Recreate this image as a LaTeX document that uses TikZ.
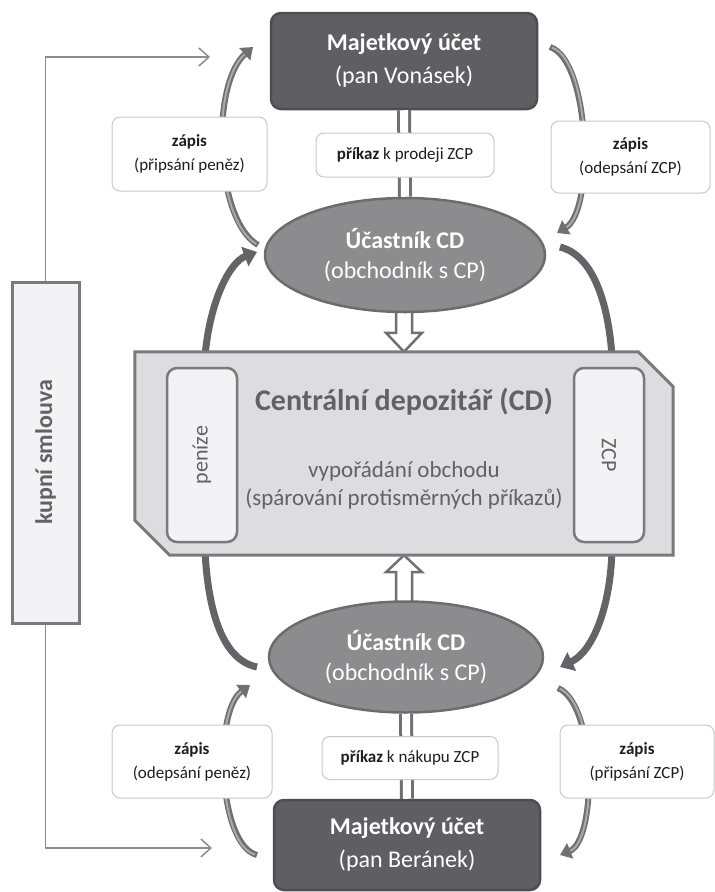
\documentclass[tikz,border=0pt]{standalone}
\usepackage{fontspec}
\usepackage{graphicx}
\setmainfont{Carlito}
\usetikzlibrary{arrows.meta,shapes.geometric,calc}
\definecolor{accfill}{RGB}{95,95,99}
\definecolor{accdraw}{RGB}{78,78,82}
\definecolor{ellfill}{RGB}{140,140,143}
\definecolor{elldraw}{RGB}{108,108,112}
\definecolor{cdfill}{RGB}{221,221,223}
\definecolor{cddraw}{RGB}{122,122,126}
\definecolor{innerfill}{RGB}{243,243,245}
\definecolor{cdtext}{RGB}{98,98,102}
\definecolor{smalldraw}{RGB}{200,200,203}
\definecolor{arrowc}{RGB}{112,112,116}
\definecolor{arrowlight}{RGB}{170,170,173}
\definecolor{arrowdark}{RGB}{100,100,104}
\definecolor{linec}{RGB}{140,140,143}
\definecolor{txt}{RGB}{30,30,30}
\tikzset{
  accbox/.style={draw=accdraw, fill=accfill, line width=2.5pt, rounded corners=10pt,
    minimum width=266pt, minimum height=96pt, text=white, align=center,
    font=\fontsize{24}{33}\selectfont},
  ellbox/.style={ellipse, draw=elldraw, fill=ellfill, line width=2.5pt,
    minimum width=280pt, minimum height=114pt, text=white, align=center, inner sep=0pt,
    font=\fontsize{24}{30}\selectfont},
  smallbox/.style={draw=smalldraw, fill=white, line width=1pt, rounded corners=8pt,
    align=center, text=txt, font=\fontsize{17}{24}\selectfont},
  innerbox/.style={draw=cddraw, fill=innerfill, line width=2.5pt, rounded corners=10pt,
    minimum width=70pt, minimum height=174pt, text=cdtext, font=\fontsize{22}{26}\selectfont},
  dbl/.style={draw=arrowc, line width=3pt, double=white, double distance=8pt},
  hollow/.style={draw=arrowc, fill=white, line width=2.5pt, line join=miter},
  curv/.style={draw=arrowc, line width=6pt, -{Triangle[length=11pt,width=16pt]}},
  curvin/.style={draw=arrowlight, line width=2pt, shorten >=11pt, shorten <=2pt},
  curvthick/.style={draw=arrowdark, line width=7pt, -{Triangle[length=13pt,width=20pt]}},
  thinarr/.style={draw=linec, line width=1.5pt, -{Straight Barb[length=10pt,width=18pt,line width=1.5pt]}},
}
\begin{document}
\begin{tikzpicture}[x=1pt,y=-1pt]
\useasboundingbox (0,0) rectangle (715,892);

% curve end coordinates
\coordinate (tla) at (258,245); \coordinate (tlb) at (253,47);
\coordinate (tlc) at (205,356); \coordinate (tld) at (257,252);
\coordinate (tra) at (550,47);  \coordinate (trb) at (557,233);
\coordinate (trc) at (560,247); \coordinate (trd) at (612,356);
\coordinate (bla) at (257,667); \coordinate (blb) at (205,551);
\coordinate (blc) at (257,855); \coordinate (bld) at (250,685);
\coordinate (bra) at (612,551); \coordinate (brb) at (560,667);
\coordinate (brc) at (558,688); \coordinate (brd) at (560,855);

% curved arrows
\draw[curv] (tla) .. controls (215,220) and (210,85) .. (tlb);
\draw[curvin] (tla) .. controls (215,220) and (210,85) .. (tlb);
\draw[curvthick] (tlc) .. controls (210,300) and (230,262) .. (tld);
\draw[curv] (tra) .. controls (590,60) and (595,210) .. (trb);
\draw[curvin] (tra) .. controls (590,60) and (595,210) .. (trb);
\draw[curvthick, -] (trc) .. controls (592,255) and (608,300) .. (trd);
\draw[curvthick, -] (bla) .. controls (222,660) and (208,610) .. (blb);
\draw[curv] (blc) .. controls (218,845) and (213,712) .. (bld);
\draw[curvin] (blc) .. controls (218,845) and (213,712) .. (bld);
\draw[curvthick] (bra) .. controls (610,610) and (592,652) .. (brb);
\draw[curv] (brc) .. controls (597,705) and (597,840) .. (brd);
\draw[curvin] (brc) .. controls (597,705) and (597,840) .. (brd);

% nodes
\node[accbox] (acc1) at (404,61) {\textbf{Majetkový účet}\\(pan Vonásek)};
\node[accbox, minimum height=90pt] (acc2) at (407,845) {\textbf{Majetkový účet}\\(pan Beránek)};

\node[inner sep=0pt, minimum width=538pt, minimum height=203pt] (cd) at (404,453.5) {};

% hollow arrows (drawn under ellipses)
\draw[hollow] ($(cd.north)+(-8,-47)$) -- ($(cd.north)+(-8,-19)$) -- ($(cd.north)+(-18,-19)$)
  -- (cd.north) -- ($(cd.north)+(18,-19)$) -- ($(cd.north)+(8,-19)$) -- ($(cd.north)+(8,-47)$);
\draw[hollow] ($(cd.south)+(-8,52)$) -- ($(cd.south)+(-8,17)$) -- ($(cd.south)+(-18,17)$)
  -- (cd.south) -- ($(cd.south)+(18,17)$) -- ($(cd.south)+(8,17)$) -- ($(cd.south)+(8,52)$);

% CD polygon
\draw[draw=cddraw, fill=cdfill, line width=3pt, line join=miter]
  (cd.north west) -- ($(cd.north east)+(-35,0)$) -- ($(cd.north east)+(0,35)$)
  -- (cd.south east) -- ($(cd.south west)+(35,0)$) -- ($(cd.south west)+(0,-35)$) -- cycle;

\node[innerbox] (pen) at (202,455) {\rotatebox{90}{peníze}};
\node[innerbox] (zcp) at (609,455) {\rotatebox{-90}{ZCP}};
\node[text=cdtext, font=\fontsize{30}{36}\selectfont\bfseries] (cdtitle) at (404,402) {Centrální depozitář (CD)};
\node[text=cdtext, align=center, font=\fontsize{23}{28}\selectfont] (cdsub) at (404,485) {vypořádání obchodu\\(spárování protisměrných příkazů)};

\node[ellbox] (ell1) at (405,255) {\textbf{Účastník CD}\\(obchodník s CP)};
\node[ellbox, minimum width=274pt, minimum height=111pt] (ell2) at (406,657) {\textbf{Účastník CD}\\(obchodník s CP)};

% double connectors
\draw[dbl] (acc1.south) -- (ell1.north);
\draw[dbl] (ell2.south) -- (acc2.north);
\node[smallbox, minimum width=178pt, minimum height=44pt] (p1) at (405,155) {\textbf{příkaz} k prodeji ZCP};
\node[smallbox, minimum width=176pt, minimum height=43pt] (p2) at (410,758) {\textbf{příkaz} k nákupu ZCP};

% small boxes
\node[smallbox, minimum width=155pt, minimum height=74pt] (zl1) at (189.5,154) {\textbf{zápis}\\(připsání peněz)};
\node[smallbox, minimum width=159pt, minimum height=72pt] (zr1) at (630.5,157) {\textbf{zápis}\\(odepsání ZCP)};
\node[smallbox, minimum width=160pt, minimum height=73pt] (zl2) at (192,761.5) {\textbf{zápis}\\(odepsání peněz)};
\node[smallbox, minimum width=154pt, minimum height=73pt] (zr2) at (637,761.5) {\textbf{zápis}\\(připsání ZCP)};

% kupni smlouva
\node[draw=cddraw, fill=innerfill, line width=3pt, minimum width=67pt, minimum height=341pt,
  text=cdtext, font=\fontsize{24}{28}\selectfont\bfseries] (kupni) at (45.5,452.5) {\rotatebox{90}{kupní smlouva}};
\coordinate (kend1) at (210,57);
\coordinate (kend2) at (212,848);
\draw[thinarr] (kupni.north) |- (kend1);
\draw[thinarr] (kupni.south) |- (kend2);
\end{tikzpicture}
\end{document}
